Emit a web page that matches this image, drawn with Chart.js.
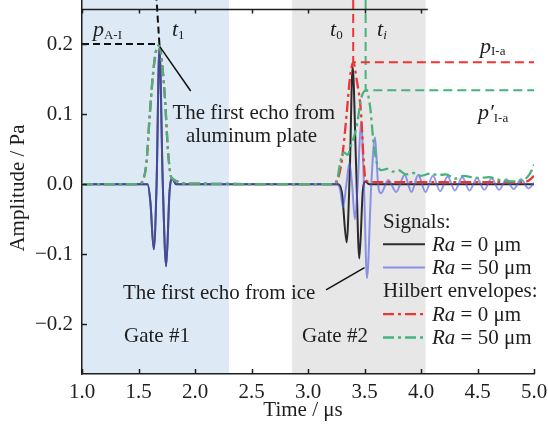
<!DOCTYPE html>
<html>
<head>
<meta charset="utf-8">
<script src="https://cdn.jsdelivr.net/npm/chart.js@4.4.1/dist/chart.umd.min.js"></script>
<style>
  html, body { margin: 0; padding: 0; background: #fff; }
  #wrap { width: 548px; height: 425px; }
</style>
</head>
<body>
<div id="wrap"><canvas id="echoChart" width="548" height="425"></canvas></div>
<script>
// axis ticks
const timeTicks = [1.0, 1.5, 2.0, 2.5, 3.0, 3.5, 4.0, 4.5, 5.0];
const timeTickLabels = ['1.0', '1.5', '2.0', '2.5', '3.0', '3.5', '4.0', '4.5', '5.0'];
const ampTicks = [-0.2, -0.1, 0.0, 0.1, 0.2];
const ampTickLabels = ['\u22120.2', '\u22120.1', '0.0', '0.1', '0.2'];

// time gates (µs)
const gateStarts = [1.0, 2.86];
const gateEnds = [2.30, 4.04];
const gateNames = ['Gate #1', 'Gate #2'];

// raw signal, Ra = 0 µm
const sig0Time = [1.00, 1.58, 1.605, 1.635, 1.66, 1.685, 1.715, 1.745, 1.775, 1.80, 1.83,
  3.26, 3.30, 3.342, 3.37, 3.395, 3.425, 3.454, 3.485, 3.51, 3.54, 5.00];
const sig0Amp = [0, 0, -0.025, -0.093, 0.0, 0.195, 0.0, -0.117, -0.01, 0.008, 0,
  0, -0.012, -0.083, 0.02, 0.168, 0.03, -0.106, -0.01, 0.004, 0, 0];

// raw signal, Ra = 50 µm
const sig50Time = [1.00, 1.58, 1.605, 1.635, 1.66, 1.685, 1.715, 1.745, 1.775, 1.80, 1.83,
  3.26, 3.285, 3.31, 3.34, 3.366, 3.39, 3.415, 3.44, 3.47, 3.495, 3.522, 3.56, 3.593, 3.62,
  3.646, 3.71, 3.78, 3.855, 3.915, 3.975, 4.04, 4.105, 4.17, 4.235, 4.30, 4.365, 4.43,
  4.495, 4.56, 4.625, 4.69, 4.755, 4.82, 4.885, 4.95, 5.00];
const sig50Amp = [0, 0, -0.025, -0.093, 0.0, 0.195, 0.0, -0.117, -0.01, 0.008, 0,
  0, -0.008, -0.033, 0.0, 0.03, 0.0, -0.05, 0.0, 0.09, 0.0, -0.134, 0.0, 0.067, 0.0,
  -0.013, 0.006, -0.011, 0.013, -0.011, 0.013, -0.011, 0.012, -0.01, 0.011, -0.009, 0.01, -0.009,
  0.009, -0.008, 0.008, -0.008, 0.007, -0.007, 0.007, -0.006, 0.002];

// Hilbert envelope, Ra = 0 µm
const env0Time = [1.00, 1.50, 1.54, 1.57, 1.60, 1.63, 1.655, 1.685, 1.71, 1.735, 1.76, 1.785, 1.80, 1.84, 1.90,
  3.24, 3.27, 3.30, 3.342, 3.37, 3.40, 3.43, 3.47, 3.49, 3.51, 3.56, 4.90, 4.95, 5.00];
const env0Amp = [0, 0, 0.006, 0.03, 0.10, 0.16, 0.19, 0.198, 0.17, 0.12, 0.05, 0.012, 0.008, 0.004, 0.001,
  0, 0.01, 0.035, 0.10, 0.15, 0.174, 0.15, 0.10, 0.04, 0.006, 0.003, 0.003, 0.005, 0.012];

// Hilbert envelope, Ra = 50 µm
const env50Time = [1.00, 1.50, 1.54, 1.57, 1.60, 1.63, 1.655, 1.685, 1.71, 1.735, 1.76, 1.785, 1.80, 1.84, 1.90,
  3.22, 3.26, 3.29, 3.32, 3.35, 3.38, 3.43, 3.475, 3.515, 3.55, 3.578, 3.61, 3.65, 3.70, 3.75,
  3.80, 3.87, 3.93, 4.00, 4.08, 4.15, 4.22, 4.30, 4.38, 4.45, 4.52, 4.60, 4.70, 4.80, 4.88,
  4.94, 4.98, 5.00];
const env50Amp = [0, 0, 0.006, 0.03, 0.10, 0.16, 0.19, 0.198, 0.17, 0.12, 0.05, 0.012, 0.008, 0.004, 0.001,
  0, 0.008, 0.035, 0.045, 0.042, 0.055, 0.082, 0.125, 0.134, 0.11, 0.063, 0.03, 0.02, 0.022, 0.018,
  0.02, 0.014, 0.016, 0.012, 0.015, 0.013, 0.014, 0.008, 0.012, 0.01, 0.009, 0.01, 0.006, 0.004, 0.005,
  0.01, 0.02, 0.028];

// peak read-off lines: p_A-I / t1, p_I-a / t0, p'_I-a / ti
const peakAITime = [1.0, 1.685, 1.66];
const peakAIAmp = [0.2, 0.2, 0.263];
const peakIaTime = [3.40, 3.40, 5.0];
const peakIaAmp = [0.263, 0.174, 0.174];
const peakIa50Time = [3.51, 3.51, 5.0];
const peakIa50Amp = [0.263, 0.134, 0.134];

// callout leaders
const leaderAlTime = [1.69, 1.962];
const leaderAlAmp = [0.196, 0.133];
const leaderIceTime = [3.16, 3.50];
const leaderIceAmp = [-0.151, -0.119];

const SERIF = '"Liberation Serif", "Times New Roman", serif';
const INK = '#1e1e1e';

function pts(ts, vs) {
  return ts.map((t, i) => ({ x: t, y: vs[i] }));
}

function trace(label, ts, vs, style, order) {
  return Object.assign({
    label: label,
    data: pts(ts, vs),
    showLine: true,
    pointRadius: 0,
    fill: false,
    order: order
  }, style);
}

const smooth = { cubicInterpolationMode: 'monotone' };

const datasets = [
  trace('sig0', sig0Time, sig0Amp, Object.assign({ borderColor: '#2a2a2a', borderWidth: 2 }, smooth), 8),
  trace('sig50', sig50Time, sig50Amp, Object.assign({ borderColor: 'rgba(80,92,222,0.62)', borderWidth: 2 }, smooth), 7),
  trace('env0', env0Time, env0Amp, Object.assign({ borderColor: 'rgb(240,52,52)', borderWidth: 2.3, borderDash: [11, 4, 3, 4] }, smooth), 6),
  trace('env50', env50Time, env50Amp, Object.assign({ borderColor: 'rgb(72,178,124)', borderWidth: 2.3, borderDash: [11, 4, 3, 4] }, smooth), 5),
  trace('pAI', peakAITime, peakAIAmp, { borderColor: '#111', borderWidth: 2, borderDash: [7, 4], clip: false }, 4),
  trace('pIa', peakIaTime, peakIaAmp, { borderColor: 'rgb(240,52,52)', borderWidth: 2, borderDash: [9, 5], clip: false }, 3),
  trace('pIa50', peakIa50Time, peakIa50Amp, { borderColor: 'rgb(72,178,124)', borderWidth: 2, borderDash: [9, 5], clip: false }, 3),
  trace('leadAl', leaderAlTime, leaderAlAmp, { borderColor: '#111', borderWidth: 1.5 }, 1),
  trace('leadIce', leaderIceTime, leaderIceAmp, { borderColor: '#111', borderWidth: 1.5 }, 1)
];

// text pieces: [font style, size, text, baseline shift]
function drawRich(ctx, x, y, parts) {
  let cx = x;
  ctx.textBaseline = 'middle';
  ctx.textAlign = 'left';
  parts.forEach(p => {
    ctx.font = p[0] + ' ' + p[1] + 'px ' + SERIF;
    ctx.fillText(p[2], cx, y + (p[3] || 0));
    cx += ctx.measureText(p[2]).width;
  });
}

const labelsOnPlot = [
  { t: 1.097, v: 0.220, parts: [['italic', 22, 'p'], ['normal', 13, 'A-I', 5]] },
  { t: 1.796, v: 0.220, parts: [['italic', 22, 't'], ['normal', 13, '1', 5]] },
  { t: 3.195, v: 0.220, parts: [['italic', 22, 't'], ['normal', 13, '0', 5]] },
  { t: 3.611, v: 0.220, parts: [['italic', 22, 't'], ['italic', 13, 'i', 5]] },
  { t: 4.522, v: 0.196, parts: [['italic', 22, 'p'], ['normal', 13, 'I-a', 5]] },
  { t: 4.504, v: 0.101, parts: [['italic', 22, 'p\u2032'], ['normal', 13, 'I-a', 5]] },
  { t: 1.363, v: -0.156, parts: [['normal', 21, 'The first echo from ice']] }
];

const echoFromAl = ['The first echo from', 'aluminum plate'];

const legendRows = [
  { head: 'Signals:' },
  { ds: 0, text: ' = 0 \u03bcm' },
  { ds: 1, text: ' = 50 \u03bcm' },
  { head: 'Hilbert envelopes:' },
  { ds: 2, text: ' = 0 \u03bcm' },
  { ds: 3, text: ' = 50 \u03bcm' }
];

const decor = {
  id: 'decor',
  beforeDraw(chart) {
    const { ctx, chartArea, scales } = chart;
    const fills = ['rgb(222,233,246)', 'rgb(231,231,231)'];
    ctx.save();
    gateStarts.forEach((g, i) => {
      const x0 = scales.x.getPixelForValue(g);
      const x1 = scales.x.getPixelForValue(gateEnds[i]);
      ctx.fillStyle = fills[i];
      ctx.fillRect(x0, chartArea.top, x1 - x0, chartArea.bottom - chartArea.top);
    });
    ctx.restore();
  },
  afterDatasetsDraw(chart) {
    const { ctx, chartArea, scales } = chart;
    const xs = scales.x, ys = scales.y;
    ctx.save();
    ctx.strokeStyle = INK;
    ctx.lineWidth = 1.5;

    // inward tick marks
    ctx.beginPath();
    ampTicks.forEach(v => {
      const y = Math.round(ys.getPixelForValue(v)) + 0.5;
      ctx.moveTo(chartArea.left, y);
      ctx.lineTo(chartArea.left + 5, y);
    });
    timeTicks.forEach(t => {
      const x = Math.round(xs.getPixelForValue(t)) + 0.5;
      ctx.moveTo(x, chartArea.bottom);
      ctx.lineTo(x, chartArea.bottom - 5);
    });
    ctx.stroke();

    // upper frame line, ends past gate #2
    const yTop = Math.round(ys.getPixelForValue(0.25)) + 0.5;
    const xEnd = xs.getPixelForValue(4.06);
    ctx.beginPath();
    ctx.moveTo(chartArea.left, yTop);
    ctx.lineTo(xEnd, yTop);
    timeTicks.filter(t => t <= 4.0).forEach(t => {
      const x = Math.round(xs.getPixelForValue(t)) + 0.5;
      ctx.moveTo(x, yTop);
      ctx.lineTo(x, yTop + 4);
    });
    ctx.stroke();

    ctx.fillStyle = INK;
    labelsOnPlot.forEach(l => {
      drawRich(ctx, xs.getPixelForValue(l.t), ys.getPixelForValue(l.v), l.parts);
    });

    ctx.font = '21px ' + SERIF;
    ctx.textAlign = 'center';
    ctx.textBaseline = 'middle';
    ctx.fillText(echoFromAl[0], xs.getPixelForValue(2.52), ys.getPixelForValue(0.101));
    ctx.fillText(echoFromAl[1], xs.getPixelForValue(2.50), ys.getPixelForValue(0.068));

    ctx.textAlign = 'left';
    ctx.fillText(gateNames[0], xs.getPixelForValue(1.372), ys.getPixelForValue(-0.217));
    ctx.fillText(gateNames[1], xs.getPixelForValue(2.947), ys.getPixelForValue(-0.217));

    // legend block
    const lx = xs.getPixelForValue(3.664);
    const lineEnd = xs.getPixelForValue(4.035);
    const textX = xs.getPixelForValue(4.097);
    let ly = ys.getPixelForValue(-0.054);
    legendRows.forEach(r => {
      if (r.head) {
        ctx.fillStyle = INK;
        drawRich(ctx, lx, ly, [['normal', 21, r.head]]);
      } else {
        const ds = chart.data.datasets[r.ds];
        ctx.save();
        ctx.strokeStyle = ds.borderColor;
        ctx.lineWidth = ds.borderWidth;
        ctx.setLineDash(ds.borderDash || []);
        ctx.beginPath();
        ctx.moveTo(lx, ly - 1);
        ctx.lineTo(lineEnd, ly - 1);
        ctx.stroke();
        ctx.restore();
        ctx.fillStyle = INK;
        drawRich(ctx, textX, ly, [['italic', 21, 'Ra'], ['normal', 21, r.text]]);
      }
      ly += 23.3;
    });

    // axis titles
    ctx.font = '21px ' + SERIF;
    ctx.textAlign = 'center';
    ctx.textBaseline = 'middle';
    ctx.fillText('Time / \u03bcs', 303, 410);
    ctx.translate(18, 188);
    ctx.rotate(-Math.PI / 2);
    ctx.fillText('Amplitude / Pa', 0, 0);
    ctx.restore();
  }
};

new Chart(document.getElementById('echoChart'), {
  type: 'scatter',
  data: { datasets: datasets },
  plugins: [decor],
  options: {
    responsive: false,
    animation: false,
    layout: { padding: { left: 0, right: 14, top: 0, bottom: 0 } },
    plugins: { legend: { display: false }, tooltip: { enabled: false } },
    scales: {
      x: {
        type: 'linear',
        min: 1.0,
        max: 5.0,
        afterBuildTicks: s => { s.ticks = timeTicks.map(v => ({ value: v })); },
        afterFit: s => { s.height = 51; s.paddingLeft = 0; s.paddingRight = 0; },
        grid: { display: false, drawTicks: false },
        border: { display: true, color: INK, width: 1.5 },
        ticks: {
          padding: 6,
          color: INK,
          font: { family: SERIF, size: 21 },
          maxRotation: 0,
          callback: (v, i) => timeTickLabels[i]
        }
      },
      y: {
        type: 'linear',
        min: -0.271,
        max: 0.263,
        afterBuildTicks: s => { s.ticks = ampTicks.map(v => ({ value: v })); },
        afterFit: s => { s.width = 82; s.paddingTop = 0; s.paddingBottom = 0; },
        grid: { display: false, drawTicks: false },
        border: { display: true, color: INK, width: 1.5 },
        ticks: {
          padding: 9,
          color: INK,
          font: { family: SERIF, size: 21 },
          callback: (v, i) => ampTickLabels[i]
        }
      }
    }
  }
});
</script>
</body>
</html>
